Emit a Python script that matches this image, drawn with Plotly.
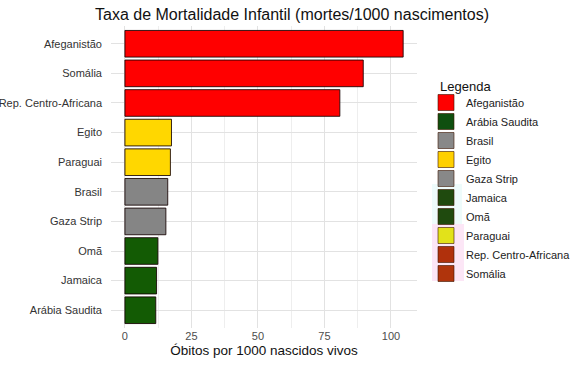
import plotly.graph_objects as go

# Data (top-to-bottom order as shown)
countries = ["Afeganistão", "Somália", "Rep. Centro-Africana", "Egito", "Paraguai",
             "Brasil", "Gaza Strip", "Omã", "Jamaica", "Arábia Saudita"]
values = [104.6, 89.6, 80.8, 17.5, 17.1, 16.1, 15.4, 12.4, 11.9, 11.6]
bar_colors = ["#FF0000", "#FF0000", "#FF0000", "#FFD700", "#FFD700",
              "#858585", "#858585", "#135B04", "#135B04", "#135B04"]

legend_labels = ["Afeganistão", "Arábia Saudita", "Brasil", "Egito", "Gaza Strip",
                 "Jamaica", "Omã", "Paraguai", "Rep. Centro-Africana", "Somália"]
legend_colors = ["#FF0000", "#0F4F0F", "#888888", "#FFD000", "#888888",
                 "#1F4A0E", "#1F4A0E", "#E2E21A", "#B0300C", "#B0340C"]

FONT = "Liberation Sans, Arial, sans-serif"

fig = go.Figure()
fig.add_trace(go.Bar(
    x=values, y=countries, orientation="h", width=0.9,
    marker=dict(color=bar_colors, line=dict(color="rgba(20,0,0,0.85)", width=1)),
    showlegend=False,
))
for lab, col in zip(legend_labels, legend_colors):
    fig.add_trace(go.Scatter(
        x=[None], y=[None], mode="markers", name=lab,
        marker=dict(symbol="square", size=18, color=col,
                    line=dict(color="rgba(60,20,0,0.6)", width=1)),
    ))

L, R, T, B = 111, 155, 26, 38
W, H = 572, 366
PW, PH = W - L - R, H - T - B

def px(xp):
    return (xp - L) / PW

def py(yp):
    return 1 - (yp - T) / PH

fig.update_layout(
    width=W, height=H,
    margin=dict(l=L, r=R, t=T, b=B, autoexpand=False),
    paper_bgcolor="white", plot_bgcolor="white",
    font=dict(family=FONT, color="#222222"),
    title=dict(text="Taxa de Mortalidade Infantil (mortes/1000 nascimentos)",
               x=292 / W, xanchor="center", y=1 - 14 / H, yanchor="middle",
               font=dict(size=16, color="#111111")),
    xaxis=dict(range=[-5.23, 109.8], tick0=0, dtick=25, showgrid=True,
               gridcolor="#E2E2E2", gridwidth=1, zeroline=False, showline=False,
               tickfont=dict(size=11, color="#4D4D4D"),
               minor=dict(dtick=12.5, tick0=0, showgrid=True, gridcolor="#EEEEEE", gridwidth=1),
               title=dict(text="Óbitos por 1000 nascidos vivos",
                          font=dict(size=13.5, color="#111111"), standoff=4)),
    yaxis=dict(type="category", categoryorder="array", categoryarray=countries,
               range=[9.6, -0.6], showgrid=True, gridcolor="#E2E2E2", gridwidth=1,
               zeroline=False, showline=False,
               tickfont=dict(size=11, color="#333333"), ticklabelstandoff=8),
    legend=dict(x=px(426), xanchor="left",
                y=py(88), yanchor="top",
                font=dict(size=11, color="#222222"), tracegroupgap=0,
                bgcolor="rgba(0,0,0,0)"),
    bargap=0.1,
    annotations=[dict(text="Legenda", xref="paper", yref="paper",
                      x=px(438), y=py(86), xanchor="left", yanchor="middle",
                      showarrow=False, font=dict(size=13, color="#111111"))],
    shapes=[
        dict(type="rect", xref="paper", yref="paper", layer="below",
             x0=px(432), x1=px(464), y0=py(224), y1=py(281),
             fillcolor="#FCE6F6", line=dict(width=0)),
        dict(type="rect", xref="paper", yref="paper", layer="below",
             x0=px(432), x1=px(462), y0=py(184), y1=py(224),
             fillcolor="#EEFBFB", line=dict(width=0)),
    ],
)
fig.write_html("out.html")
